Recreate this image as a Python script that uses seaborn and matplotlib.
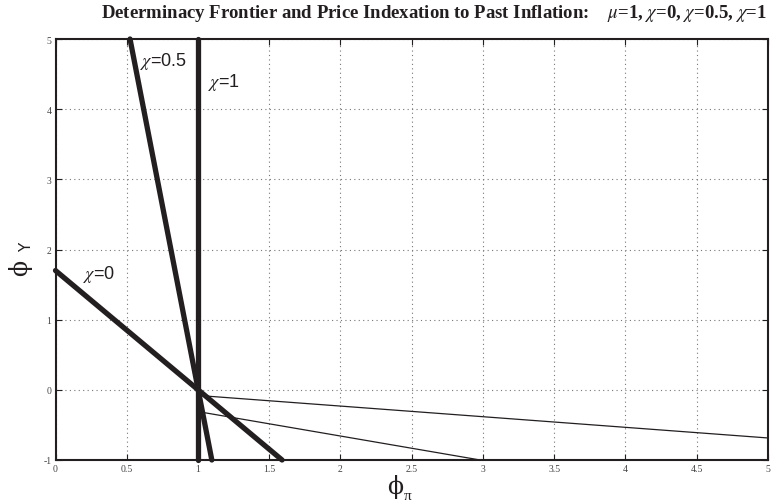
import numpy as np
import pandas as pd
import matplotlib
matplotlib.use("Agg")
import matplotlib.pyplot as plt
import seaborn as sns

# === Line endpoints (phi_pi, phi_Y) ===
chi0_x = [0.0, 1.59]
chi0_y = [1.70, -1.0]
chi05_x = [0.523, 1.097]
chi05_y = [5.0, -1.0]
chi1_x = [1.0, 1.0]
chi1_y = [5.0, -1.0]
thinA_x = [1.0, 5.0]
thinA_y = [-0.08, -0.686]
thinB_x = [1.0, 2.98]
thinB_y = [-0.31, -1.0]

x_ticks = [0, 0.5, 1, 1.5, 2, 2.5, 3, 3.5, 4, 4.5, 5]
x_tick_labels = ["0", "0.5", "1", "1.5", "2", "2.5", "3", "3.5", "4", "4.5", "5"]
y_ticks = [-1, 0, 1, 2, 3, 4, 5]
y_tick_labels = ["-1", "0", "1", "2", "3", "4", "5"]

labels = [r"$\chi$=0", r"$\chi$=0.5", r"$\chi$=1"]
label_x = [0.19, 0.593, 1.07]
label_y = [1.66, 4.69, 4.40]

title = (r"Determinacy Frontier and Price Indexation to Past Inflation:    "
         r"$\mu$=1, $\chi$=0, $\chi$=0.5, $\chi$=1")

sns.set_theme(style="white")
plt.rcParams["font.family"] = ["Liberation Serif", "DejaVu Serif"]
plt.rcParams["mathtext.fontset"] = "stix"

INK = "#231f20"

fig = plt.figure(figsize=(7.76, 5.02), dpi=100)
ax = fig.add_axes([55.5 / 776, 41 / 502, (768 - 55.5) / 776, (461 - 40) / 502])

thick = [(chi0_x, chi0_y), (chi05_x, chi05_y), (chi1_x, chi1_y)]
thin = [(thinA_x, thinA_y), (thinB_x, thinB_y)]
for xs, ys in thin:
    sns.lineplot(x=xs, y=ys, ax=ax, color=INK, linewidth=0.9,
                 estimator=None, sort=False)
for xs, ys in thick:
    df = pd.DataFrame({"phi_pi": xs, "phi_y": ys})
    sns.lineplot(data=df, x="phi_pi", y="phi_y", ax=ax, color=INK,
                 linewidth=3.8, estimator=None, sort=False,
                 solid_capstyle="round", clip_on=False)

ax.set_xlim(0, 5)
ax.set_ylim(-1, 5)
ax.set_xticks(x_ticks)
ax.set_xticklabels(x_tick_labels)
ax.set_yticks(y_ticks)
ax.set_yticklabels(y_tick_labels)
ax.tick_params(direction="in", length=4, width=0.8, labelsize=7,
               labelcolor="#444444", color=INK, pad=3,
               top=True, right=True, bottom=True, left=True)
ax.grid(True, linestyle=(0, (1, 3)), color="#777777", linewidth=0.8)
for sp in ax.spines.values():
    sp.set_color(INK)
    sp.set_linewidth(1.5)

ax.set_xlabel("")
ax.set_ylabel("")

for t, lx, ly in zip(labels, label_x, label_y):
    ax.text(lx, ly, t, fontsize=13, va="center", ha="left", color=INK,
            family=["Liberation Sans", "DejaVu Sans"])

# axis labels, MATLAB-like phi with offset subscript
fig.text(395 / 776, 1 - 487 / 502, "ϕ", fontsize=17, ha="center", va="center",
         family=["DejaVu Serif"], color=INK)
fig.text(408 / 776, 1 - 497 / 502, "π", fontsize=11, ha="center", va="center",
         color=INK)
fig.text(20 / 776, 1 - 268 / 502, "ϕ", fontsize=17, ha="center", va="center",
         rotation=90, family=["DejaVu Serif"], color=INK)
fig.text(27 / 776, 1 - 247 / 502, "Y", fontsize=11, ha="center", va="center",
         rotation=90, family=["DejaVu Sans"], color=INK)

fig.text(434 / 776, 1 - 13 / 502, title, fontsize=13.5, fontweight="bold",
         ha="center", va="center", color=INK)

fig.savefig("out.png", dpi=100)
